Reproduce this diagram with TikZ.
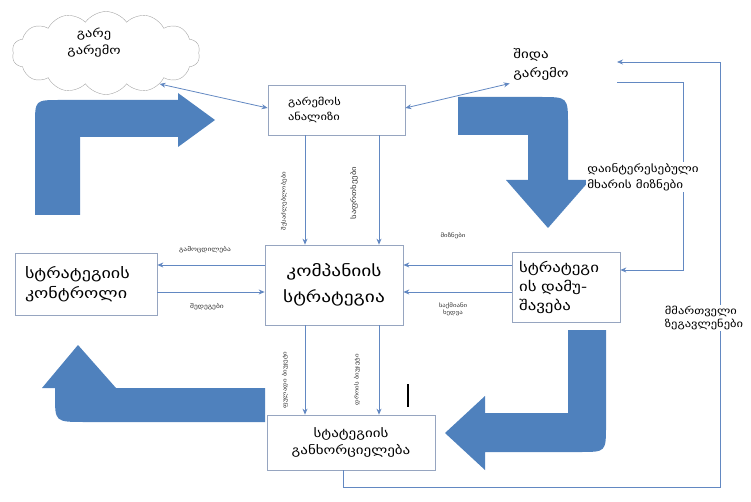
\documentclass[tikz,border=0pt]{standalone}
\usepackage{fontspec}
\setmainfont{DejaVu Sans}[FakeStretch=1.25]
\usetikzlibrary{shapes.symbols,arrows.meta}
\definecolor{bigblue}{RGB}{79,129,189}
\definecolor{linec}{RGB}{98,136,194}
\definecolor{framec}{RGB}{150,165,192}
\newcommand{\fs}[2]{\fontsize{#1}{#2}\selectfont}
\begin{document}
\begin{tikzpicture}[x=1pt,y=-1pt,
  box/.style={draw=framec, line width=0.7pt, fill=white, inner sep=0pt},
  flow/.style={draw=linec, line width=0.8pt, -{Stealth[length=6pt,width=5pt]}},
  both/.style={draw=linec, line width=0.8pt, {Stealth[length=6pt,width=5pt]}-{Stealth[length=6pt,width=5pt]}},
  tiny/.style={font=\fs{5.5}{7}, align=center, text=black!80, inner sep=0pt},
  note/.style={align=left, fill=white, inner sep=1pt},
  block/.style={fill=bigblue}]
\useasboundingbox (0,0) rectangle (751,502);

% wide block arrows of the cycle
\fill[block] (35,215) -- (35,125) .. controls (35,100) .. (60,100) -- (178,100)
  -- (178,93) -- (215,120) -- (178,147) -- (178,137) -- (80,137) -- (80,215) -- cycle;
\fill[block] (458,97) -- (540,97) .. controls (568,97) .. (568,125) -- (568,180)
  -- (590,180) -- (548,228) -- (506,180) -- (528,180) -- (528,135) -- (458,135) -- cycle;
\fill[block] (568,330) -- (606,330) -- (606,425) .. controls (606,452) .. (580,452)
  -- (485,452) -- (485,470) -- (445,433) -- (485,396) -- (485,413) -- (568,413) -- cycle;
\fill[block] (265,388) -- (265,422) -- (85,422) .. controls (55,422) .. (55,395)
  -- (55,388) -- (42,388) -- (78,345) -- (116,388) -- cycle;

% nodes
\node[cloud, cloud puffs=14, cloud puff arc=110, aspect=2.3, draw=gray!70,
  minimum width=188, minimum height=83] (gare) at (106,53) {};
\node[align=center, font=\fs{11.5}{17}] (garet) at (94,43) {გარე\\გარემო};
\node[box, minimum width=137, minimum height=50, text width=97, align=left,
  font=\fs{10}{15}] (anal) at (336.5,110) {გარემოს\\ანალიზი};
\node[align=left, font=\fs{12}{19}] (shida) at (541,64) {შიდა\\გარემო};
\node[box, minimum width=142, minimum height=62, text width=122, align=left,
  font=\fs{14.5}{20}] (kontr) at (86,284) {სტრატეგიის\\კონტროლი};
\node[box, minimum width=138, minimum height=80, align=center,
  font=\fs{15.5}{26}] (komp) at (334,285) {კომპანიის\\სტრატეგია};
\node[box, minimum width=108, minimum height=70, text width=94, align=left,
  font=\fs{13.5}{19}] (damu) at (566,287) {სტრატეგი\\ის დამუ-\\შავება};
\node[box, minimum width=168, minimum height=55, align=center,
  font=\fs{12}{17}] (ganx) at (351,442.5) {სტატეგიის\\განხორციელება};

% thin connectors
\draw[both] (anal.west |- 0,108) -- (gare.-30);
\draw[both] (anal.east |- 0,108) -- (shida.south west);
\draw[flow] (anal.south -| 305,0) -- (komp.north -| 305,0);
\draw[flow] (anal.south -| 379,0) -- (komp.north -| 379,0);
\draw[flow] (komp.south -| 305,0) -- (ganx.north -| 305,0);
\draw[flow] (komp.south -| 379,0) -- (ganx.north -| 379,0);
\draw[flow] (komp.west |- 0,265) -- (kontr.east |- 0,265);
\draw[flow] (kontr.east |- 0,292) -- (komp.west |- 0,292);
\draw[flow] (damu.west |- 0,265) -- (komp.east |- 0,265);
\draw[flow] (damu.west |- 0,292) -- (komp.east |- 0,292);

% feedback lines on the right
\coordinate (fb1) at (617,62);
\coordinate (fb2) at (617,82);
\draw[flow] (ganx.south -| 343,0) |- (720,487) |- (fb1);
\draw[flow] (fb2) -| (683,270) -- (damu.east |- 0,270);

% connector labels
\node[tiny, rotate=90] (l1) at (284,201) {შესაძლებლობები};
\node[tiny, rotate=90, font=\fs{7}{8}] (l2) at (354,193) {საფრთხეები};
\node[tiny, rotate=90] (l3) at (285,380) {ფულადი ბიუჯეტი};
\node[tiny, rotate=90] (l4) at (357,380) {დროის ბიუჯეტი};
\node[tiny, font=\fs{6}{7}] (l5) at (205,250) {გამოცდილება};
\node[tiny, font=\fs{6}{7}] (l6) at (207,307) {შედეგები};
\node[tiny] (l7) at (453,236) {მიზნები};
\node[tiny] (l8) at (453,309) {საქმიანი\\ხედვა};
\node[note, font=\fs{10.5}{16}] (l9) at (643,177) {დაინტერესებული\\მხარის მიზნები};
\node[note, font=\fs{10}{12.5}] (l10) at (704,318) {მმართველი\\ზეგავლენები};

% stray text cursor mark
\draw[black, line width=1.3pt] (408,384) -- (408,407);
\end{tikzpicture}
\end{document}
